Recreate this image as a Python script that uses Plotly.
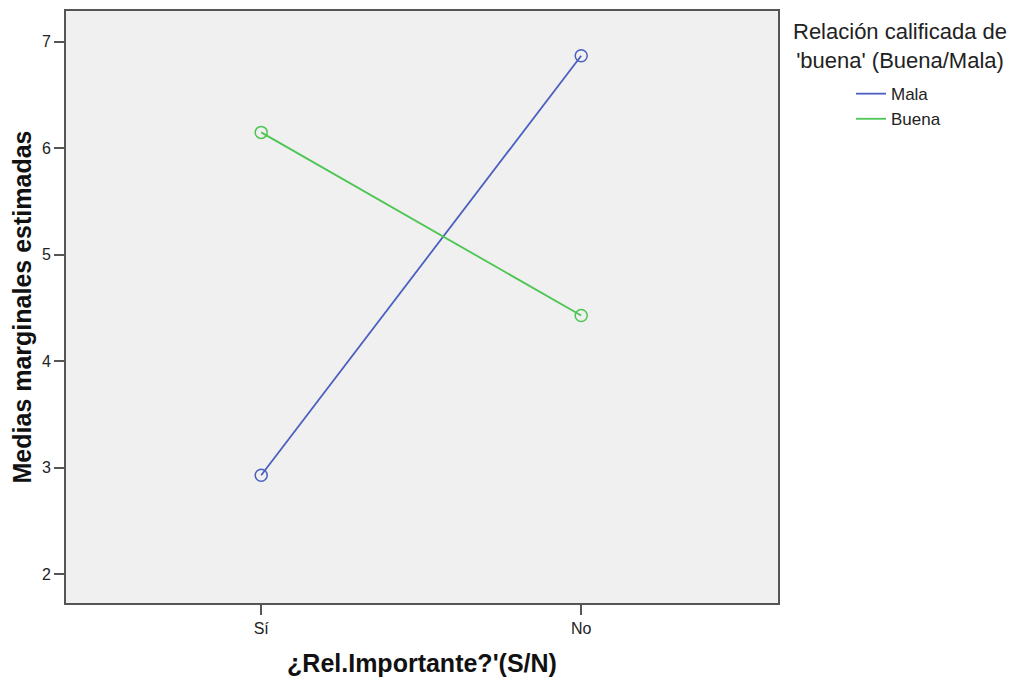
import plotly.graph_objects as go

categories = ["Sí", "No"]
mala = [2.93, 6.87]
buena = [6.15, 4.43]
series_names = ["Mala", "Buena"]
colors = ["#4B5FBF", "#4CC552"]
y_ticks = [2, 3, 4, 5, 6, 7]

fig = go.Figure()
for name, vals, col in zip(series_names, [mala, buena], colors):
    fig.add_trace(go.Scatter(
        x=[0, 1], y=vals, mode="lines", name=name,
        line=dict(color=col, width=1.8), showlegend=True,
    ))
for name, vals, col in zip(series_names, [mala, buena], colors):
    fig.add_trace(go.Scatter(
        x=[0, 1], y=vals, mode="markers", name=name, showlegend=False,
        marker=dict(symbol="circle-open", size=12, color=col, line=dict(width=1.5, color=col)),
    ))

fig.update_layout(
    width=1007, height=677,
    margin=dict(l=58, r=237, t=1, b=82),
    paper_bgcolor="white", plot_bgcolor="#F0F0F0",
    font=dict(family="Liberation Sans, Arial, sans-serif", color="#222", size=16),
    showlegend=True,
    legend=dict(x=1.1025, y=0.89, xanchor="left", yanchor="top",
                font=dict(size=17, color="#222"), bgcolor="rgba(0,0,0,0)",
                tracegroupgap=0, itemwidth=30),
    annotations=[dict(text="Relación calificada de<br>'buena' (Buena/Mala)",
                      xref="paper", yref="paper", x=1.171, y=0.99,
                      xanchor="center", yanchor="top", showarrow=False,
                      font=dict(size=22, color="#222"), align="center")],
)
fig.update_xaxes(
    range=[-0.61, 1.615], tickvals=[0, 1], ticktext=categories,
    showgrid=False, zeroline=False, showline=True, mirror=True,
    linecolor="#555", linewidth=2, ticks="outside", ticklen=10, tickwidth=1.5, tickcolor="#555",
    tickfont=dict(size=16, color="#222"),
    title=dict(text="<b>¿Rel.Importante?'(S/N)</b>", font=dict(size=25, color="#111"), standoff=18),
)
fig.update_yaxes(
    range=[1.73, 7.29], tickvals=y_ticks,
    showgrid=False, zeroline=False, showline=True, mirror=True,
    linecolor="#555", linewidth=2, ticks="outside", ticklen=10, tickwidth=1.5, tickcolor="#555",
    tickfont=dict(size=16, color="#222"),
    title=dict(text="<b>Medias marginales estimadas</b>", font=dict(size=25, color="#111"), standoff=8),
)
fig.write_html("out.html")
